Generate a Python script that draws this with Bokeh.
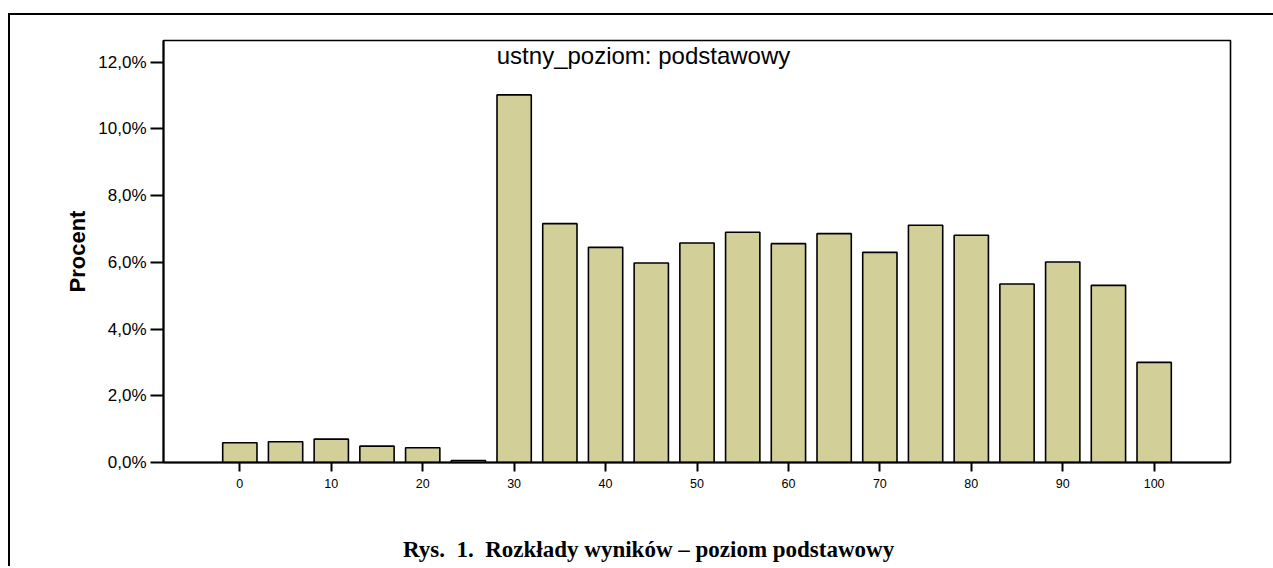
from bokeh.plotting import figure
from bokeh.models import Range1d, FixedTicker, Label, ColumnDataSource, Div
from bokeh.layouts import column
from bokeh.embed import file_html
from bokeh.resources import INLINE

# ---- data ----
scores = [0, 5, 10, 15, 20, 25, 30, 35, 40, 45, 50, 55, 60, 65, 70, 75, 80, 85, 90, 95, 100]
percent = [0.59, 0.62, 0.70, 0.49, 0.44, 0.06, 11.02, 7.16, 6.45, 5.98, 6.58, 6.90, 6.56,
           6.86, 6.30, 7.11, 6.81, 5.35, 6.01, 5.31, 3.00]
x_ticks = [0, 10, 20, 30, 40, 50, 60, 70, 80, 90, 100]
y_ticks = [0, 2, 4, 6, 8, 10, 12]
y_tick_labels = {t: f"{t:.1f}".replace(".", ",") + "%" for t in y_ticks}
panel_title = "ustny_poziom: podstawowy"
y_label = "Procent"
caption = "Rys.&nbsp; 1.&nbsp; Rozkłady wyników – poziom podstawowy"

src = ColumnDataSource(dict(x=scores, top=percent))

p = figure(width=1263, height=482, output_backend="svg", toolbar_location=None,
           x_range=Range1d(-8.35, 108.35), y_range=Range1d(0, 12.65),
           min_border_left=153, min_border_right=43, min_border_top=25, min_border_bottom=35)

p.vbar(x="x", top="top", bottom=0, width=3.75, source=src,
       fill_color="#d3cf99", line_color="black", line_width=1.6)

p.xgrid.visible = False
p.ygrid.visible = False
p.outline_line_color = "black"
p.outline_line_width = 1.6
p.background_fill_color = "white"
p.border_fill_color = "white"

xa = p.xaxis[0]
xa.ticker = FixedTicker(ticks=x_ticks)
xa.minor_tick_line_color = None
xa.major_tick_in = 0
xa.major_tick_out = 9
xa.major_tick_line_width = 2
xa.axis_line_width = 2
xa.axis_line_color = "black"
xa.major_label_text_font = "Liberation Sans"
xa.major_label_text_font_size = "12.5px"
xa.major_label_text_color = "black"
xa.major_label_standoff = 7

ya = p.yaxis[0]
ya.ticker = FixedTicker(ticks=y_ticks)
ya.major_label_overrides = y_tick_labels
ya.minor_tick_line_color = None
ya.major_tick_in = 0
ya.major_tick_out = 13
ya.major_tick_line_width = 2
ya.axis_line_width = 2
ya.axis_line_color = "black"
ya.major_label_text_font = "Liberation Sans"
ya.major_label_text_font_size = "17px"
ya.major_label_text_color = "black"
ya.major_label_standoff = 4
ya.axis_label = y_label
ya.axis_label_text_font = "Liberation Sans"
ya.axis_label_text_font_style = "bold"
ya.axis_label_text_font_size = "22px"
ya.axis_label_text_color = "black"
ya.axis_label_standoff = 5

p.add_layout(Label(x=28.1, y=12.2, text=panel_title, text_font="Liberation Sans",
                   text_font_size="24px", text_baseline="middle", text_align="left",
                   text_color="black"))

cap = Div(text=caption, width=800, height=26, margin=(40, 0, 3, 393),
          styles={"font-family": "Liberation Serif", "font-weight": "bold",
                  "font-size": "23px", "color": "black", "white-space": "nowrap",
                  "line-height": "26px"})

layout = column(p, cap, margin=(13, 0, 0, 8),
                styles={"border-left": "2px solid black", "border-top": "2px solid black"})

open("out.html", "w").write(file_html(layout, INLINE))
